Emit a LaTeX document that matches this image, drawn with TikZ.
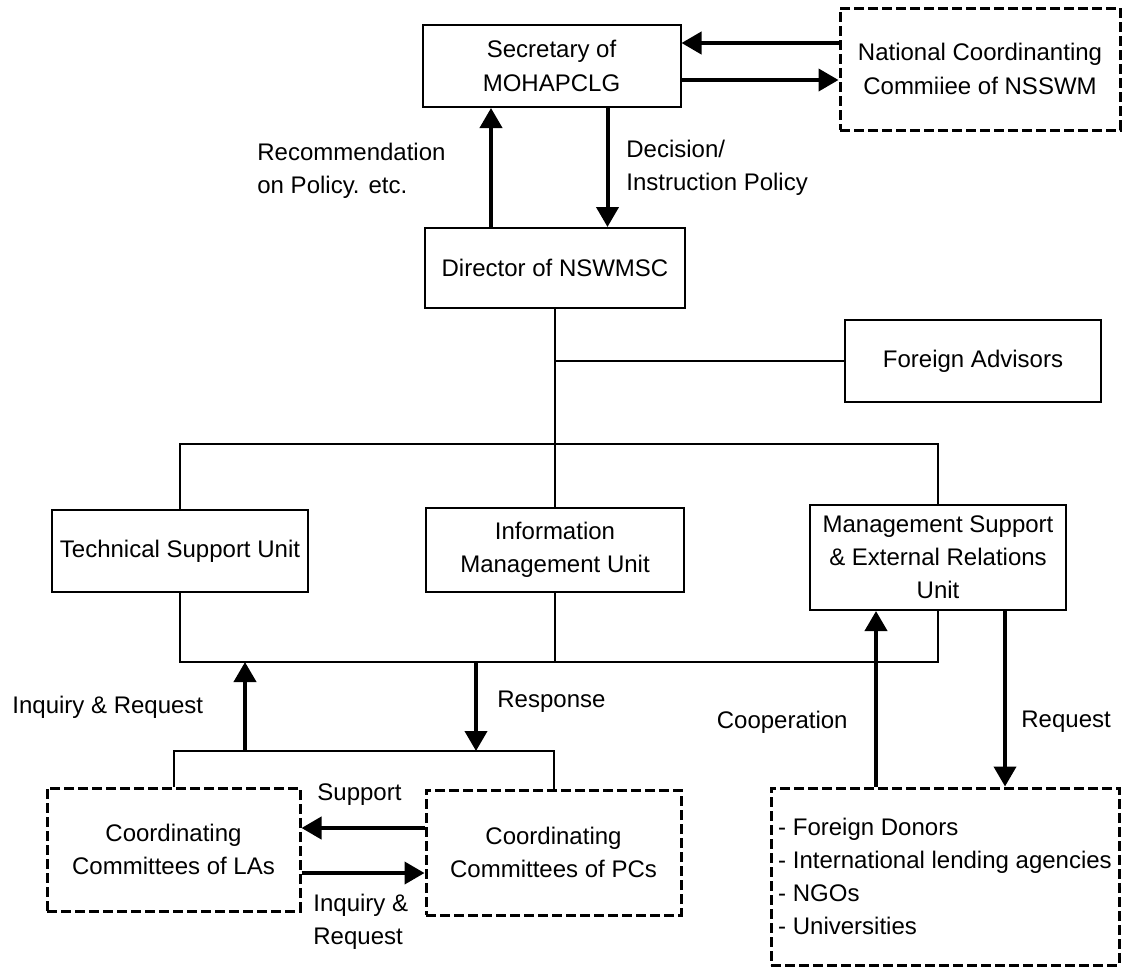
\documentclass[tikz,border=0pt]{standalone}
\usepackage{fontspec}
\setmainfont{Liberation Sans}
\usetikzlibrary{arrows.meta}

\begin{document}
\begin{tikzpicture}[x=0.5pt, y=-0.5pt,
    font=\fontsize{12}{16.6}\selectfont,
    unit/.style={draw, line width=1pt, align=center, minimum width=129pt, minimum height=41pt},
    group/.style={unit, dash pattern=on 5pt off 2pt, line width=1.5pt},
    bus/.style={line width=1pt},
    flow/.style={line width=2pt, -{Triangle[length=10pt, width=11pt]}},
    lbl/.style={inner sep=0pt, align=left}]
    \useasboundingbox (0,0) rectangle (1122,970);
    % Top level
    \node[unit] (sec) at (551.5,66) {Secretary of\\MOHAPCLG};
    \node[group, minimum width=140pt, minimum height=61pt] (ncc) at (980,69) {National Coordinanting\\Commiiee of NSSWM};
    \node[unit, minimum width=130pt, minimum height=40pt] (dir) at (555,268) {Director of NSWMSC};
    \node[unit, minimum width=128pt] (fadv) at (973,361) {Foreign Advisors};
    % Units
    \node[unit, minimum width=128pt] (tsu) at (180,551) {Technical Support Unit};
    \node[unit, minimum height=42pt] (imu) at (555,550) {Information\\Management Unit};
    \node[unit, minimum width=128pt, minimum height=52.5pt] (msu) at (938,557.5) {Management Support\\\& External Relations\\Unit};
    % Committees and partners
    \node[group, minimum width=126.5pt, minimum height=61.5pt] (cla) at (173.5,849.5) {Coordinating\\Committees of LAs};
    \node[group, minimum width=127.5pt, minimum height=62.5pt] (cpc) at (553.5,852.5) {Coordinating\\Committees of PCs};
    \node[group, minimum width=174pt, minimum height=88.5pt, align=left] (don) at (945,876.5) {- Foreign Donors\\- International lending agencies\\- NGOs\\- Universities};
    % Draw the buses
    \coordinate (topbus) at (555,444);
    \coordinate (lowbus) at (555,662);
    \coordinate (combus) at (360,751);
    \draw[bus] (dir.south) -- (imu.north);
    \draw[bus] (dir.south |- fadv.west) -- (fadv.west);
    \draw[bus] (tsu.north) |- (topbus) -| (msu.north);
    \draw[bus] (tsu.south) |- (lowbus) -| (msu.south);
    \draw[bus] (imu.south) -- (lowbus);
    \draw[bus] (cla.north) |- (combus) -| (cpc.north);
    % Draw the arrows
    \coordinate (nccin) at ([yshift=11.5pt]sec.east);
    \coordinate (secout) at ([yshift=-7pt]sec.east);
    \draw[flow] (nccin -| ncc.west) -- (nccin);
    \draw[flow] (secout) -- (secout -| ncc.west);
    \coordinate (recup) at ([xshift=-32pt]dir.north);
    \coordinate (decdown) at ([xshift=28pt]sec.south);
    \draw[flow] (recup) -- (recup |- sec.south);
    \draw[flow] (decdown) -- (decdown |- dir.north);
    \coordinate (inqup) at (245,751);
    \coordinate (respdown) at (476,662);
    \draw[flow] (inqup) -- (inqup |- lowbus);
    \draw[flow] (respdown) -- (respdown |- combus);
    \coordinate (suppin) at ([yshift=12.25pt]cpc.west);
    \coordinate (inqin) at ([yshift=-10.25pt]cpc.west);
    \draw[flow] (suppin) -- (suppin -| cla.east);
    \draw[flow] (inqin -| cla.east) -- (inqin);
    \coordinate (coopup) at ([xshift=-34.5pt]don.north);
    \coordinate (reqdown) at ([xshift=33.5pt]msu.south);
    \draw[flow] (coopup) -- (coopup |- msu.south);
    \draw[flow] (reqdown) -- (reqdown |- don.north);
    % Labels
    \node[lbl, anchor=west] (recl) at (257,171) {Recommendation\\on Policy. etc.};
    \node[lbl, anchor=west] (decl) at (626,168) {Decision/\\Instruction Policy};
    \node[lbl, anchor=west] (inql) at (12,707) {Inquiry \& Request};
    \node[lbl, anchor=west] (respl) at (497,702) {Response};
    \node[lbl, anchor=west] (suppl) at (317,795) {Support};
    \node[lbl, anchor=west] (inq2l) at (313,922) {Inquiry \&\\Request};
    \node[lbl, anchor=east] (coopl) at (848,722) {Cooperation};
    \node[lbl, anchor=west] (reql) at (1021,722) {Request};
\end{tikzpicture}
\end{document}
